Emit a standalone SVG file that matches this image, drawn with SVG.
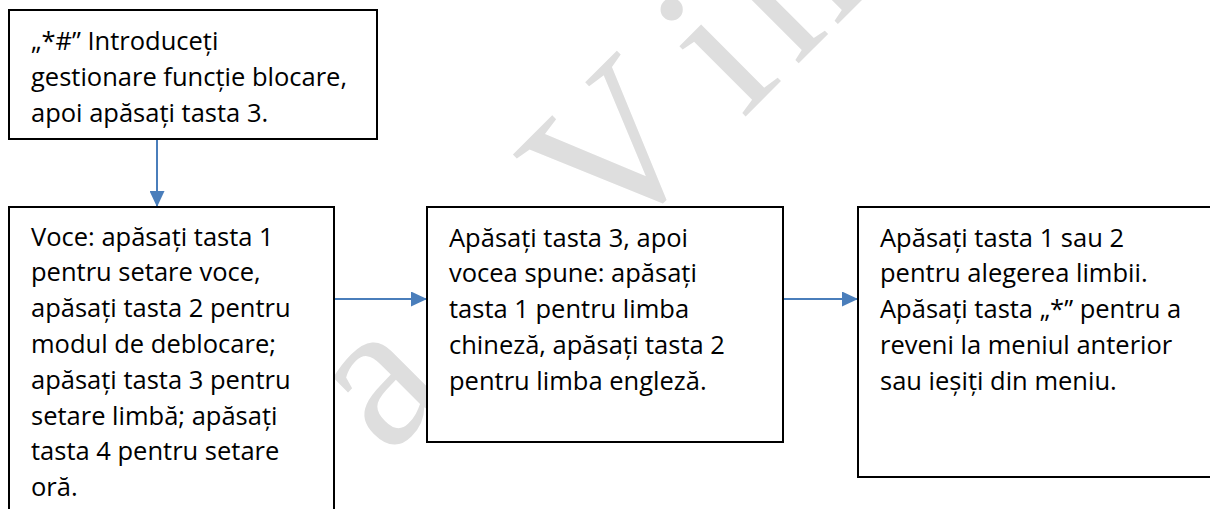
<svg xmlns="http://www.w3.org/2000/svg" width="1210" height="509" viewBox="0 0 1210 509">
<style>
.box{fill:#fff;stroke:#000;stroke-width:2}
.t{font-family:"Open Sans","Liberation Sans",sans-serif;font-size:25.5px;fill:#000}
.wm{font-family:"Liberation Serif",serif;font-size:210px;fill:#dedede;text-anchor:middle}
.conn{stroke:#4A7EBB;stroke-width:2;fill:none;marker-end:url(#ah)}
</style>
<defs>
<marker id="ah" markerUnits="userSpaceOnUse" markerWidth="16" markerHeight="15" refX="16" refY="7.5" orient="auto">
<path d="M0,0 L16,7.5 L0,15 z" fill="#4A7EBB"/>
</marker>
</defs>
<rect width="1210" height="509" fill="#fff"/>
<g id="watermark">
<text class="wm" transform="translate(662,200) rotate(-45)"><tspan x="-330" y="-12">a</tspan><tspan x="0" y="0">V</tspan><tspan x="143" y="0">i</tspan><tspan x="241" y="0">n</tspan></text>
</g>
<g id="connectors">
<line class="conn" x1="157" y1="139" x2="157" y2="207"/>
<line class="conn" x1="334" y1="299" x2="427" y2="299"/>
<line class="conn" x1="783" y1="299" x2="858" y2="299"/>
</g>
<g id="node1">
<rect class="box" x="9" y="10" width="368" height="129"/>
<text class="t" x="31" y="49.5">„*#” Introduceți</text>
<text class="t" x="31" y="85.5">gestionare funcție blocare,</text>
<text class="t" x="31" y="121.5">apoi apăsați tasta 3.</text>
</g>
<g id="node2">
<rect class="box" x="9" y="207" width="325" height="320"/>
<text class="t" x="31" y="245.5">Voce: apăsați tasta 1</text>
<text class="t" x="31" y="281.3">pentru setare voce,</text>
<text class="t" x="31" y="317.1">apăsați tasta 2 pentru</text>
<text class="t" x="31" y="352.9">modul de deblocare;</text>
<text class="t" x="31" y="388.7">apăsați tasta 3 pentru</text>
<text class="t" x="31" y="424.5">setare limbă; apăsați</text>
<text class="t" x="31" y="460.3">tasta 4 pentru setare</text>
<text class="t" x="31" y="496.1">oră.</text>
</g>
<g id="node3">
<rect class="box" x="427" y="207" width="356" height="235"/>
<text class="t" x="449" y="246.5">Apăsați tasta 3, apoi</text>
<text class="t" x="449" y="282.3">vocea spune: apăsați</text>
<text class="t" x="449" y="318.1">tasta 1 pentru limba</text>
<text class="t" x="449" y="353.9">chineză, apăsați tasta 2</text>
<text class="t" x="449" y="389.7">pentru limba engleză.</text>
</g>
<g id="node4">
<rect class="box" x="858" y="207" width="360" height="270"/>
<text class="t" x="880" y="246.5">Apăsați tasta 1 sau 2</text>
<text class="t" x="880" y="282.3">pentru alegerea limbii.</text>
<text class="t" x="880" y="318.1">Apăsați tasta „*” pentru a</text>
<text class="t" x="880" y="353.9">reveni la meniul anterior</text>
<text class="t" x="880" y="389.7">sau ieșiți din meniu.</text>
</g>
</svg>
